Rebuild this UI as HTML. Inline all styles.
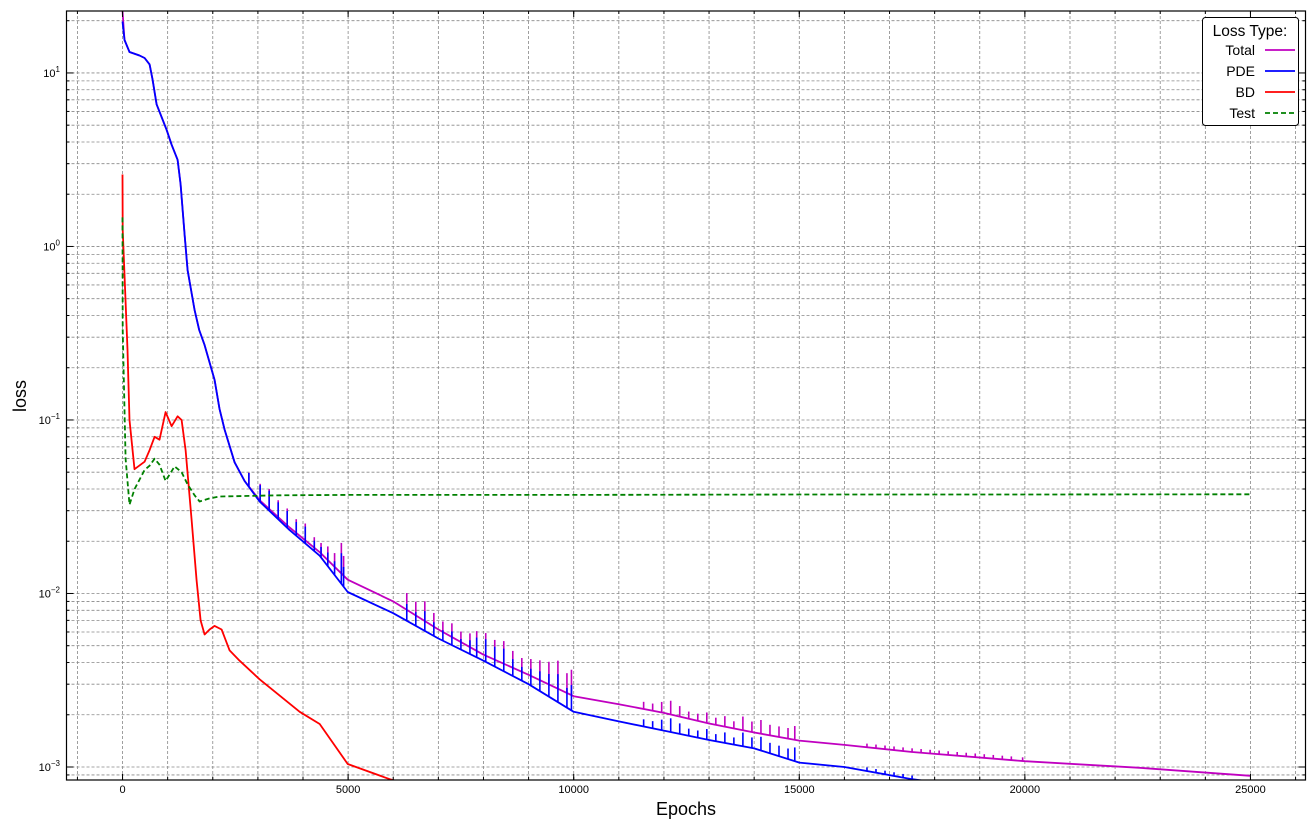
<!DOCTYPE html>
<html><head><meta charset="utf-8"><style>
body{margin:0;background:#fff;}
svg text{font-family:"Liberation Sans","DejaVu Sans",sans-serif;}
</style></head><body>
<svg id="chart" width="1316" height="829" xmlns="http://www.w3.org/2000/svg"></svg>
<script>
const totalEpochs=[0,44,155,377,488,600,665,754,976,1087,1220,1287,1375,1442,1597,1700,1819,2041,2150,2263,2484,2706,3039,3704,4370,4991,6000,7000,8000,9000,10000,11000,12000,13000,14000,15000,16000,17500,20000,22500,25000];
const totalValues=[22.8,15.5,13.2,12.6,12.2,11.2,9.2,6.6,4.7,3.86,3.16,2.28,1.17,0.73,0.43,0.33,0.27,0.17,0.116,0.088,0.057,0.0445,0.0345,0.024,0.0173,0.0120,0.0090,0.0062,0.00444,0.0034,0.00256,0.0023,0.00205,0.00178,0.00158,0.00142,0.00134,0.00122,0.00108,0.00099,0.00089];
const pdeEpochs=[0,44,155,377,488,600,665,754,976,1087,1220,1287,1375,1442,1597,1700,1819,2041,2150,2263,2484,2706,3039,3704,4370,4991,6000,7000,8000,9000,10000,11000,12000,13000,14000,15000,16000,17500,20000,22500,25000];
const pdeValues=[19.8,15.5,13.2,12.6,12.2,11.2,9.2,6.6,4.7,3.86,3.16,2.28,1.17,0.73,0.43,0.33,0.27,0.17,0.116,0.088,0.057,0.0445,0.0339,0.0232,0.0165,0.0102,0.0077,0.0055,0.0041,0.0030,0.00208,0.00183,0.00162,0.00143,0.00128,0.00106,0.0010,0.00085,0.0007,0.0006,0.0005];
const bdEpochs=[0,3,111,155,266,488,600,710,820,954,1087,1220,1309,1398,1531,1641,1730,1819,1930,2041,2196,2374,2595,3039,3926,4370,4991,5923,6500];
const bdValues=[2.6,1.25,0.254,0.1,0.052,0.0575,0.067,0.080,0.077,0.111,0.092,0.105,0.10,0.067,0.0266,0.0119,0.0070,0.0058,0.0062,0.0065,0.0062,0.0047,0.0041,0.0032,0.00208,0.00177,0.00104,0.00085,0.00078];
const testEpochs=[0,3,67,155,266,488,600,710,820,954,1153,1309,1442,1597,1708,1930,2152,3483,5000,10000,15000,20000,25000];
const testValues=[1.47,0.331,0.0598,0.0325,0.0399,0.0515,0.0545,0.0598,0.0552,0.0445,0.054,0.050,0.0425,0.0368,0.0339,0.0353,0.0362,0.0368,0.0370,0.0370,0.0372,0.0372,0.0373];
const spikeEpochs=[2800,3050,3250,3450,3650,3850,4050,4250,4400,4550,4700,4850,4900,6300,6500,6700,6900,7100,7300,7500,7700,7850,8050,8250,8450,8650,8850,9050,9250,9450,9650,9850,9950,11550,11750,11950,12150,12350,12550,12750,12950,13150,13350,13550,13750,13950,14150,14350,14550,14750,14900,16500,16700,16900,17100,17300,17500,17700,17900,18100,18300,18500,18700,18900,19100,19300,19500,19700,19950];
const spikeRatio=[1.2,1.25,1.3,1.25,1.25,1.2,1.25,1.15,1.15,1.2,1.2,1.5,1.3,1.25,1.2,1.3,1.2,1.15,1.2,1.15,1.2,1.3,1.35,1.3,1.35,1.25,1.2,1.25,1.3,1.35,1.45,1.3,1.4,1.1,1.1,1.15,1.2,1.15,1.1,1.1,1.15,1.1,1.15,1.1,1.2,1.15,1.2,1.15,1.15,1.15,1.2,1.05,1.05,1.05,1.05,1.05,1.05,1.05,1.05,1.05,1.05,1.05,1.05,1.05,1.05,1.05,1.05,1.05,1.05];
const xTicks=[0,5000,10000,15000,20000,25000];
const yTickExp=[-3,-2,-1,0,1];

const L=66.5,R=1305.5,T=11,B=780;
const X0=-1242,X1=26220, LY0=-3.075, LY1=1.357;
const xs=v=>L+(v-X0)/(X1-X0)*(R-L);
const ys=v=>B-(Math.log10(v)-LY0)/(LY1-LY0)*(B-T);
const svg=document.getElementById('chart');
const NS='http://www.w3.org/2000/svg';
function mk(tag,attrs,parent){const e=document.createElementNS(NS,tag);for(const k in attrs)e.setAttribute(k,attrs[k]);(parent||svg).appendChild(e);return e;}
function interp(ex,vs,e){for(let i=1;i<ex.length;i++){if(e<=ex[i]){const t=(e-ex[i-1])/(ex[i]-ex[i-1]);return Math.pow(10,Math.log10(vs[i-1])+t*(Math.log10(vs[i])-Math.log10(vs[i-1])));}}return vs[vs.length-1];}

const defs=mk('defs',{});const cp=mk('clipPath',{id:'clip'},defs);mk('rect',{x:L,y:T,width:R-L,height:B-T},cp);
const grid=mk('g',{});


for(let e=-1000;e<=26000;e+=1000){const x=xs(e);if(x<L||x>R)continue;const l=mk('line',{x1:x,x2:x,y1:T,y2:B,stroke:'#888','stroke-width':0.8,'stroke-dasharray':'3,2'},grid);}
for(let d=-4;d<=1;d++)for(let m=1;m<=9;m++){const v=m*Math.pow(10,d);const y=ys(v);if(y<T||y>B)continue;const l=mk('line',{x1:L,x2:R,y1:y,y2:y,stroke:'#888','stroke-width':0.8,'stroke-dasharray':'3,2'},grid);}

const plot=mk('g',{'clip-path':'url(#clip)'});


function series(ex,vs,color,name,dash){let d='';ex.forEach((e,i)=>{d+=(i?'L':'M')+xs(e).toFixed(1)+','+ys(vs[i]).toFixed(1);});const p=mk('path',{d:d,fill:'none',stroke:color,'stroke-width':1.8,'stroke-linejoin':'round','stroke-dasharray':dash||'none'},plot);}
function spikes(ex,vs,color,name){spikeEpochs.forEach((e,i)=>{const b=interp(ex,vs,e);if(b<1e-3*0.85)return;const s=mk('line',{x1:xs(e),x2:xs(e),y1:ys(b),y2:ys(b*spikeRatio[i]),stroke:color,'stroke-width':1.6},plot);});}
series(totalEpochs,totalValues,'#c000c0','total-line');
spikes(totalEpochs,totalValues,'#c000c0','total-spike');
series(pdeEpochs,pdeValues,'#0000ff','pde-line');
spikes(pdeEpochs,pdeValues,'#0000ff','pde-spike');
series(bdEpochs,bdValues,'#ff0000','bd-line');
series(testEpochs,testValues,'#008000','test-line','5,3');

const frame=mk('rect',{x:L,y:T,width:R-L,height:B-T,fill:'none',stroke:'#000','stroke-width':1.2});

xTicks.forEach(v=>{const x=xs(v);mk('line',{x1:x,x2:x,y1:B,y2:B-6,stroke:'#000'});mk('line',{x1:x,x2:x,y1:T,y2:T+6,stroke:'#000'});const t=mk('text',{x:x,y:793,'font-size':11,'text-anchor':'middle'});t.textContent=v;});
for(let e=-1000;e<=26000;e+=1000){const x=xs(e);if(x<L||x>R)continue;mk('line',{x1:x,x2:x,y1:B,y2:B-3,stroke:'#000'});mk('line',{x1:x,x2:x,y1:T,y2:T+3,stroke:'#000'});}
yTickExp.forEach(p=>{const y=ys(Math.pow(10,p));mk('line',{x1:L,x2:L+7,y1:y,y2:y,stroke:'#000'});mk('line',{x1:R,x2:R-7,y1:y,y2:y,stroke:'#000'});const t=mk('text',{x:60,y:y+4,'font-size':11,'text-anchor':'end'});t.innerHTML='10<tspan dy="-5" font-size="8">'+(p<0?'\u2212'+(-p):p)+'</tspan>';});
for(let d=-4;d<=1;d++)for(let m=2;m<=9;m++){const y=ys(m*Math.pow(10,d));if(y<T||y>B)continue;mk('line',{x1:L,x2:L+3,y1:y,y2:y,stroke:'#000'});mk('line',{x1:R,x2:R-3,y1:y,y2:y,stroke:'#000'});}
const xl=mk('text',{x:686,y:815,'font-size':18,'text-anchor':'middle'});xl.textContent='Epochs';
const yl=mk('text',{x:26,y:396,'font-size':18,'text-anchor':'middle',transform:'rotate(-90 26 396)'});yl.textContent='loss';

const lg=mk('g',{});
mk('rect',{x:1202.5,y:17.5,width:96,height:108,rx:3,fill:'#fff',stroke:'#000','stroke-width':1},lg);
const lt=mk('text',{x:1250,y:36,'font-size':15.5,'text-anchor':'middle'},lg);lt.textContent='Loss Type:';
[['Total','#c000c0',''],['PDE','#0000ff',''],['BD','#ff0000',''],['Test','#008000','5,3']].forEach((it,i)=>{const y=50+i*21;const t=mk('text',{x:1255,y:y+5,'font-size':14,'text-anchor':'end'},lg);t.textContent=it[0];mk('line',{x1:1265,x2:1295,y1:y,y2:y,stroke:it[1],'stroke-width':1.8,'stroke-dasharray':it[2]||'none'},lg);});
</script>
</body></html>
